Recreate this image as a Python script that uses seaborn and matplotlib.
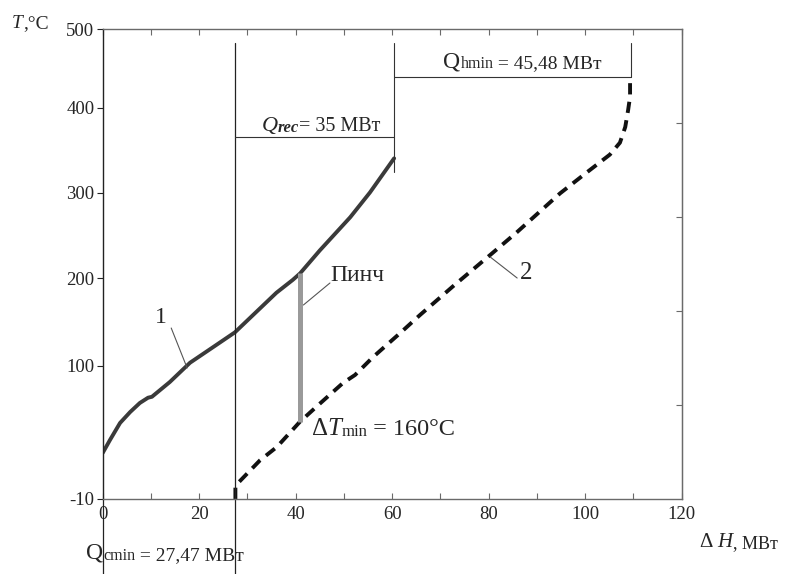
import numpy as np
import matplotlib
matplotlib.use("Agg")
import matplotlib.pyplot as plt
import seaborn as sns

# ---------------------------------------------------------------------------
# Data (ΔH in MW, T in °C)
# ---------------------------------------------------------------------------

HOT_DH = [0, 1.5, 3.6, 5.7, 7.7, 9.4, 10.2, 13.9, 18.1, 22.9, 27.4, 30.0,
          32.6, 36.0, 39.4, 40.9, 45.0, 51.3, 55.4, 60.4]
HOT_T = [40, 54, 72.6, 84.5, 94.3, 100, 101, 117, 138, 155, 171, 184,
         197, 214, 228, 235, 260, 296, 323, 360]

COLD_DH = [27.5, 27.5, 27.8, 32.6, 36.1, 40.9, 45.1, 49.8, 52.3, 56.0, 61.6,
           65.8, 72.6, 80.3, 85.9, 94.8, 100.4, 105.1, 107.2, 108.3, 108.9,
           109.3, 109.3]
COLD_T = [-10, 3, 6, 32, 46.5, 74, 94, 116, 124.7, 144, 170,
          190, 221, 255, 280, 322, 345, 364, 377, 394, 412.5,
          427, 448]

PINCH_DH = 40.9
PINCH_T = [74, 235]          # cold / hot temperature at the pinch

GUIDE_DH = [27.5, 60.4, 109.5]   # Qcmin | Qrec | Qhmin boundaries
GUIDE_T = [383, 448, 485]        # Qrec bar, Qhmin bar, top of guides

X_TICKS = [0, 20, 40, 60, 80, 100, 120]
X_MINOR = [10, 30, 50, 70, 90, 110]
Y_TICK_LABELS = ["-10", "100", "200", "300", "400", "500"]
Y_TICK_POS = [-10, 134.5, 230, 322.4, 414.7, 500]
Y_RIGHT_TICKS = [92, 194, 296, 398]

FRAME = "#6a6a6a"


def rich(ax, xy, parts, coords="data"):
    """Write text pieces of different size/style one after another."""
    txt, size, style, weight = parts[0]
    t = ax.annotate(txt, xy=xy, xycoords=coords, fontsize=size,
                    fontstyle=style, fontweight=weight, ha="left",
                    va="baseline", annotation_clip=False)
    for txt, size, style, weight in parts[1:]:
        t = ax.annotate(txt, xy=(1, 0), xycoords=t, fontsize=size,
                        fontstyle=style, fontweight=weight, ha="left",
                        va="bottom", annotation_clip=False)
    return t


sns.set_style("white")
plt.rcParams["font.family"] = ["Liberation Serif", "DejaVu Serif"]

fig = plt.figure(figsize=(7.9, 5.74), dpi=100)
ax = fig.add_axes([0.130, 0.1307, 0.7329, 0.818])

sns.lineplot(x=HOT_DH, y=HOT_T, sort=False, estimator=None, ax=ax,
             color="#3a3a3a", lw=2.8)
sns.lineplot(x=COLD_DH, y=COLD_T, sort=False, estimator=None, ax=ax,
             color="#111111", lw=2.8, linestyle=(0, (2.9, 1.9)))

ax.vlines(PINCH_DH, PINCH_T[0], PINCH_T[1], color="#9a9a9a", lw=3.6, zorder=3)

ax.set_xlim(0, 120)
ax.set_ylim(-10, 500)

# guide lines for the energy targets
xt = ax.get_xaxis_transform()
ax.plot([GUIDE_DH[0]] * 2, [-0.17, 0.9712], transform=xt, color="#222",
        lw=0.9, clip_on=False)
ax.plot([0, 0], [-0.17, 0], transform=xt, color="#222", lw=0.9, clip_on=False)
ax.plot([GUIDE_DH[0], GUIDE_DH[1]], [GUIDE_T[0]] * 2, color="#333", lw=0.8)
ax.plot([GUIDE_DH[1]] * 2, [345, GUIDE_T[2]], color="#333", lw=0.8)
ax.plot([GUIDE_DH[1], GUIDE_DH[2]], [GUIDE_T[1]] * 2, color="#333", lw=0.8)
ax.plot([GUIDE_DH[2]] * 2, [GUIDE_T[1], GUIDE_T[2]], color="#333", lw=0.8)

# ticks
ax.set_xticks(X_TICKS)
ax.set_xticks(X_MINOR, minor=True)
ax.set_xticklabels(X_TICKS, fontsize=13.5)
ax.tick_params(axis="x", which="both", direction="in", length=4, width=0.8,
               color=FRAME, bottom=True, top=True, labeltop=False, pad=5)
ax.set_yticks(Y_TICK_POS, labels=Y_TICK_LABELS, fontsize=13.5)
ax.tick_params(axis="y", direction="out", length=4, width=0.8, color="#222",
               left=True, right=False, pad=2)
sec = ax.secondary_yaxis("right")
sec.set_yticks(Y_RIGHT_TICKS)
sec.tick_params(direction="in", length=4, width=0.8, color=FRAME,
                labelright=False)
sec.spines["right"].set_color(FRAME)

for side in ("top", "right", "bottom"):
    ax.spines[side].set_color(FRAME)
    ax.spines[side].set_linewidth(1.0)
ax.spines["left"].set_color("#222")
ax.spines["left"].set_linewidth(1.0)
ax.set_xlabel("")
ax.set_ylabel("")

# curve labels with leaders
ax.plot([14.2, 17.5], [175.7, 132.3], color="#555", lw=0.8)
ax.text(12.1, 186.6, "1", fontsize=17, ha="center", va="center")
ax.plot([80.3, 85.9], [252.9, 230], color="#555", lw=0.8)
ax.text(87.7, 235.5, "2", fontsize=18, ha="center", va="center")
ax.plot([41.6, 47.1], [200.7, 224.6], color="#555", lw=0.8)
ax.text(47.1, 233, "Пинч", fontsize=17, ha="left", va="center")

rich(ax, (43.3, 59.5), [("Δ", 18, "normal", "normal"),
                        ("T", 18, "italic", "normal"),
                        ("min", 12, "normal", "normal"),
                        (" = 160°C", 17.5, "normal", "normal")])
rich(ax, (33.0, 389.5), [("Q", 16, "italic", "normal"),
                         ("rec", 12, "italic", "bold"),
                         ("= 35 МВт", 14.5, "normal", "normal")])
rich(ax, (70.6, 459), [("Q", 17, "normal", "normal"),
                       ("hmin", 11.5, "normal", "normal"),
                       (" = 45,48 МВт", 14, "normal", "normal")])
rich(ax, (86, 15), [("Q", 17, "normal", "normal"),
                    ("cmin", 11.5, "normal", "normal"),
                    (" = 27,47 МВт", 14, "normal", "normal")],
     coords="figure pixels")
rich(ax, (12, 546), [("T", 14, "italic", "normal"),
                     (",°C", 14, "normal", "normal")],
     coords="figure pixels")
rich(ax, (700, 27), [("Δ ", 15, "normal", "normal"),
                     ("H", 15, "italic", "normal"),
                     (", МВт", 13, "normal", "normal")],
     coords="figure pixels")

fig.savefig("out.png", dpi=100)
